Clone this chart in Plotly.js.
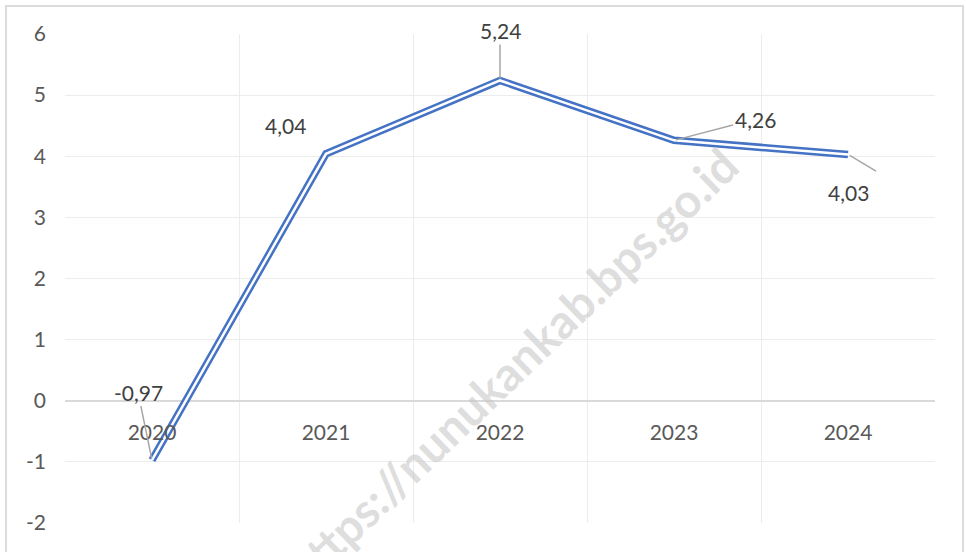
<!DOCTYPE html>
<html>
<head>
<meta charset="utf-8">
<script src="https://cdn.plot.ly/plotly-3.0.1.min.js"></script>
<style>
html,body{margin:0;padding:0;background:#fff;overflow:hidden;}
#wrap{position:relative;width:966px;height:552px;}
#chart{width:966px;height:552px;}
#frame{position:absolute;left:5px;top:5px;width:955px;height:560px;border:2px solid #dcdcdc;pointer-events:none;}
</style>
</head>
<body>
<div id="wrap"><div id="chart"></div><div id="frame"></div></div>
<script>
const years = ['2020','2021','2022','2023','2024'];
const growth = [-0.97, 4.04, 5.24, 4.26, 4.03];
const labelText = ['-0,97','4,04','5,24','4,26','4,03'];
const yTicks = [-2,-1,0,1,2,3,4,5,6];

const FONT = 'Lato, "Open Sans", sans-serif';
const TXT = '#595959';

const traces = [
  {x: years, y: growth, type: 'scatter', mode: 'lines',
   line: {color: '#4472C4', width: 7.5}, hoverinfo: 'skip'},
  {x: years, y: growth, type: 'scatter', mode: 'lines',
   line: {color: '#ffffff', width: 2.5}, hoverinfo: 'skip'}
];

// label placement (pixel offsets relative to each point)
// text: xshift/yshift of label; leader: ax/ay of the leader line end (or null)
const labelOffsets = [
  {text: null, leader: {ax: -14, ay: -68}},
  {text: {xshift: -41, yshift: 28}, leader: null},
  {text: null, leader: {ax: 0, ay: -50}},
  {text: null, leader: {ax: 81, ay: -21}},
  {text: {xshift: 0, yshift: -38}, leader: {ax: 30, ay: 18, bare: true}}
];

const labelFont = {family: FONT, size: 21, color: '#404040'};
const leaderStyle = {arrowhead: 0, arrowwidth: 1.5, arrowcolor: '#a6a6a6', standoff: 2, startstandoff: 0};

const annotations = [];
years.forEach((yr, i) => {
  const o = labelOffsets[i];
  const xi = years.indexOf(yr); // category axis: position by category index
  if (o.leader && !o.leader.bare) {
    annotations.push(Object.assign({x: xi, y: growth[i], xref: 'x', yref: 'y',
      text: labelText[i], font: labelFont, showarrow: true,
      ax: o.leader.ax, ay: o.leader.ay}, leaderStyle));
  } else {
    annotations.push({x: xi, y: growth[i], xref: 'x', yref: 'y',
      text: labelText[i], font: labelFont, showarrow: false,
      xshift: o.text.xshift, yshift: o.text.yshift});
    if (o.leader) {
      annotations.push(Object.assign({x: xi, y: growth[i], xref: 'x', yref: 'y',
        text: ' ', font: {size: 2}, showarrow: true,
        ax: o.leader.ax, ay: o.leader.ay}, leaderStyle));
    }
  }
});

annotations.push({
  xref: 'paper', yref: 'paper', x: 0.513, y: 0.32, xanchor: 'center', yanchor: 'middle',
  showarrow: false,
  text: '<b>https://nunukankab.bps.go.id</b>', textangle: -44,
  font: {family: FONT, size: 47, color: 'rgba(200,200,200,0.6)'}
});

const layout = {
  width: 966, height: 552,
  margin: {l: 65, r: 31, t: 34, b: 29},
  paper_bgcolor: '#ffffff', plot_bgcolor: '#ffffff',
  showlegend: false,
  hovermode: false,
  font: {family: FONT, color: TXT},
  xaxis: {
    type: 'category', range: [-0.5, 4.5],
    tickson: 'boundaries', showgrid: true, gridcolor: '#ececec', gridwidth: 1,
    ticks: '', showline: false, zeroline: false,
    anchor: 'free', position: (0 - yTicks[0]) / (yTicks[yTicks.length-1] - yTicks[0]),
    ticklabelstandoff: 17,
    tickfont: {family: FONT, size: 21, color: TXT}
  },
  yaxis: {
    range: [-2, 6], tickvals: yTicks, ticktext: yTicks.map(String),
    showgrid: true, gridcolor: '#ececec', gridwidth: 1,
    zeroline: true, zerolinecolor: '#d9d9d9', zerolinewidth: 1.5,
    showline: false, ticks: '', ticklabelstandoff: 18,
    tickfont: {family: FONT, size: 21, color: TXT}
  },
  annotations: annotations
};

Plotly.newPlot('chart', traces, layout, {displayModeBar: false, staticPlot: true});
</script>
</body>
</html>
